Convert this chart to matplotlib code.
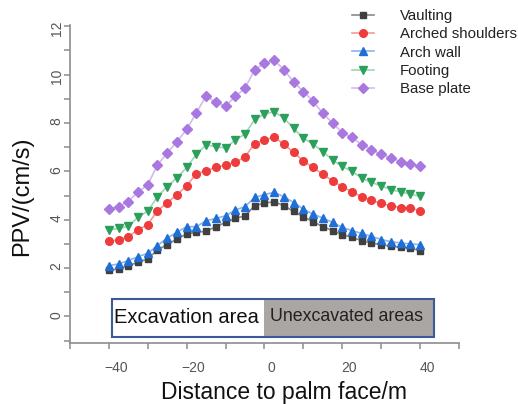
import matplotlib
matplotlib.use("Agg")
import matplotlib.pyplot as plt
import matplotlib.transforms as mtransforms
from matplotlib.patches import Rectangle
from matplotlib.ticker import MultipleLocator

plt.rcParams['font.family'] = ['Liberation Sans', 'DejaVu Sans']

# distance to palm face (m)
distance = [-40, -37.5, -35, -32.5, -30, -27.5, -25, -22.5, -20, -17.5, -15, -12.5,
            -10, -7.5, -5, -2.5, 0, 2.5, 5, 7.5, 10, 12.5, 15, 17.5, 20, 22.5,
            25, 27.5, 30, 32.5, 35, 37.5, 40]

vaulting = [1.90, 1.97, 2.10, 2.24, 2.38, 2.75, 2.97, 3.20, 3.41, 3.48, 3.52, 3.71,
            3.89, 4.05, 4.16, 4.58, 4.69, 4.74, 4.58, 4.34, 4.12, 3.92, 3.71, 3.55,
            3.38, 3.27, 3.13, 3.04, 2.97, 2.90, 2.86, 2.82, 2.72]
arched_shoulders = [3.10, 3.17, 3.30, 3.58, 3.80, 4.37, 4.70, 5.03, 5.40, 5.90, 6.02, 6.16,
                    6.26, 6.37, 6.60, 7.15, 7.30, 7.42, 7.12, 6.78, 6.43, 6.16, 5.88, 5.60,
                    5.36, 5.15, 4.95, 4.81, 4.67, 4.58, 4.50, 4.48, 4.37]
arch_wall = [2.10, 2.17, 2.31, 2.47, 2.61, 2.93, 3.24, 3.48, 3.71, 3.71, 3.96, 4.05,
             4.16, 4.40, 4.54, 4.92, 5.04, 5.13, 4.95, 4.71, 4.44, 4.23, 4.07, 3.89,
             3.68, 3.55, 3.43, 3.31, 3.18, 3.09, 3.04, 3.00, 2.97]
footing = [3.58, 3.64, 3.72, 4.10, 4.35, 4.95, 5.37, 5.73, 6.16, 6.70, 7.09, 7.02,
           6.96, 7.30, 7.54, 8.15, 8.36, 8.47, 8.20, 7.78, 7.37, 7.12, 6.82, 6.47,
           6.20, 6.00, 5.72, 5.54, 5.40, 5.24, 5.15, 5.06, 4.96]
base_plate = [4.44, 4.54, 4.75, 5.15, 5.44, 6.27, 6.75, 7.23, 7.73, 8.42, 9.12, 8.85,
              8.70, 9.10, 9.43, 10.21, 10.46, 10.60, 10.20, 9.70, 9.30, 8.90, 8.40, 8.00,
              7.60, 7.40, 7.10, 6.90, 6.70, 6.55, 6.40, 6.30, 6.20]

series = [
    ("Vaulting", vaulting, 's', 5, '#404040', '#8a8a8a'),
    ("Arched shoulders", arched_shoulders, 'o', 5.5, '#ee3b3b', '#f49a9a'),
    ("Arch wall", arch_wall, '^', 6, '#1f6fd6', '#8fb5ea'),
    ("Footing", footing, 'v', 6, '#2aa05a', '#9dd6b3'),
    ("Base plate", base_plate, 'D', 5, '#a878e0', '#d2bbef'),
]

fig = plt.figure(figsize=(5.18, 4.04), dpi=100)
ax = fig.add_axes([0.135, 0.151, 0.751, 0.787])

for name, vals, mk, ms, mcol, lcol in series:
    ax.plot(distance, vals, color=lcol, lw=1.2, marker=mk, markersize=ms,
            markerfacecolor=mcol, markeredgecolor=mcol, label=name)

ax.set_xlim(-50, 50)
ax.set_ylim(-1.1, 12.05)

# excavation / unexcavated box
ax.add_patch(Rectangle((-39.2, -0.87), 39.2, 1.61, facecolor='white', edgecolor='none', zorder=3))
ax.add_patch(Rectangle((0, -0.87), 43.6, 1.61, facecolor='#aaa6a4', edgecolor='none', zorder=3))
ax.add_patch(Rectangle((-39.2, -0.87), 82.8, 1.61, facecolor='none', edgecolor='#3c5a96',
                       lw=1.5, zorder=4))
ax.text(-38.6, -0.06, "Excavation area", fontsize=14.5, color='#111111',
        ha='left', va='center', zorder=5)
ax.text(1.4, -0.02, "Unexcavated areas", fontsize=12.8, color='#222222',
        ha='left', va='center', zorder=5)

# axes styling
for side in ['top', 'right']:
    ax.spines[side].set_visible(False)
for side in ['left', 'bottom']:
    ax.spines[side].set_color('#8c8c8c')
    ax.spines[side].set_linewidth(1.2)

ax.xaxis.set_major_locator(MultipleLocator(20))
ax.xaxis.set_minor_locator(MultipleLocator(10))
ax.yaxis.set_major_locator(MultipleLocator(2))
ax.yaxis.set_minor_locator(MultipleLocator(1))
ax.tick_params(which='both', direction='out', length=4, width=1.1, color='#8c8c8c')
ax.tick_params(axis='x', labelsize=10, labelcolor='#555555', pad=9)
ax.tick_params(axis='y', labelsize=10, labelcolor='#555555', pad=0.5, labelrotation=90)

offset = mtransforms.ScaledTranslation(7 / 100, 0, fig.dpi_scale_trans)
for lab in ax.get_xticklabels():
    lab.set_transform(lab.get_transform() + offset)

ax.set_xlabel("Distance to palm face/m", fontsize=16.5, color='#111111')
ax.xaxis.set_label_coords(0.55, -0.12)
ax.set_ylabel("PPV/(cm/s)", fontsize=17, color='#111111')
ax.yaxis.set_label_coords(-0.095, 0.46)

ax.legend(loc='upper left', bbox_to_anchor=(0.68, 0.978), bbox_transform=fig.transFigure,
          frameon=False, fontsize=10.8, handlelength=1.45, handletextpad=1.75,
          labelspacing=0.29, borderpad=0, borderaxespad=0, labelcolor='#222222')

fig.savefig("out.png", dpi=100)
